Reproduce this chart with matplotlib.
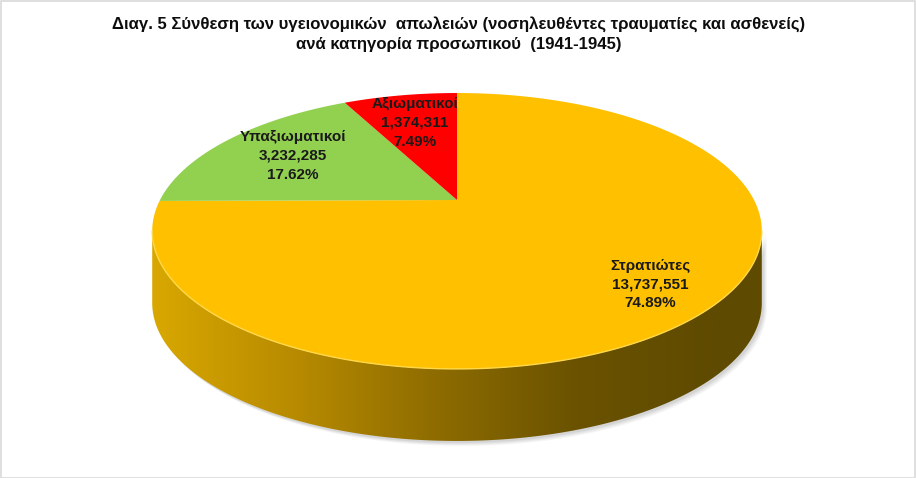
import numpy as np
import matplotlib.pyplot as plt
from matplotlib.patches import Polygon, Rectangle
from matplotlib.colors import LinearSegmentedColormap

plt.rcParams['font.family'] = ['Liberation Sans', 'DejaVu Sans']

# data
categories = ['Στρατιώτες', 'Υπαξιωματικοί', 'Αξιωματικοί']
values = [13737551, 3232285, 1374311]
colors = ['#FFC000', '#92D050', '#FF0000']
title = ('Διαγ. 5 Σύνθεση των υγειονομικών  απωλειών (νοσηλευθέντες τραυματίες και ασθενείς)\n'
         'ανά κατηγορία προσωπικού  (1941-1945)')

# pie geometry (pixel space), simple perspective of a tilted disc
cx, cy = 457, 200
A, B = 297, 131
k = 0.2246
depth = 72


def proj(t, r=1.0, dy=0.0):
    u = r * np.cos(t)
    v = r * np.sin(t)
    w = 1 + k * v
    return cx + A * u / w, cy - B * v / w + dy


fig = plt.figure(figsize=(9.16, 4.78), dpi=100)
ax = fig.add_axes([0, 0, 1, 1])
ax.set_xlim(0, 916)
ax.set_ylim(478, 0)
ax.axis('off')

total = float(sum(values))
fracs = [v / total for v in values]

# ---- side wall (front part, visible between the silhouette points)
t_left = np.pi + np.arcsin(k)
t_right = 2 * np.pi - np.arcsin(k)
tt = np.linspace(t_left, t_right, 300)
xt, yt = proj(tt)
xb, yb = proj(tt[::-1], dy=depth)

# soft shadow under the wall
for i, a in enumerate([0.05, 0.05, 0.06, 0.07]):
    off = 5 - i
    sx, sy = proj(tt, dy=depth + off)
    shp = Polygon(np.column_stack([np.r_[xt + off, sx[::-1] + off], np.r_[yt, sy[::-1]]]),
                  closed=True, facecolor='#404040', edgecolor='none', alpha=a, zorder=1)
    ax.add_patch(shp)

wall = Polygon(np.column_stack([np.r_[xt, xb], np.r_[yt, yb]]), closed=True,
               facecolor='none', edgecolor='none', zorder=2)
ax.add_patch(wall)
cmap = LinearSegmentedColormap.from_list('wall', ['#D9A800', '#B88B00', '#8E6C00', '#6A5200', '#5E4A00'])
grad = np.linspace(0, 1, 512).reshape(1, -1)
im = ax.imshow(grad, cmap=cmap, extent=[150, 720, 450, 180], aspect='auto', zorder=2)
im.set_clip_path(wall)
# right part beyond gradient stays dark
ax.add_patch(Rectangle((720, 180), 60, 270, facecolor='#5E4A00', edgecolor='none', zorder=2,
                       clip_path=wall))

# ---- top face slices (clockwise from 12 o'clock)
start = np.pi / 2
for frac, col in zip(fracs, colors):
    end = start - frac * 2 * np.pi
    ts = np.linspace(start, end, 400)
    x, y = proj(ts)
    pts = np.column_stack([np.r_[cx, x], np.r_[cy, y]])
    ax.add_patch(Polygon(pts, closed=True, facecolor=col, edgecolor='none', zorder=3))
    start = end

# light edge along front rim
ax.plot(xt, yt, color='#FFD84A', lw=1.0, zorder=4)

# ---- labels
label_r = [0.8, 0.7, 0.7]
start = np.pi / 2
for cat, val, frac, r in zip(categories, values, fracs, label_r):
    mid = start - frac * np.pi
    lx, ly = proj(mid, r=r)
    ax.text(lx, ly, '%s\n%s\n%.2f%%' % (cat, format(val, ','), frac * 100),
            ha='center', va='center', fontsize=11, fontweight='bold', color='#1A1A1A',
            linespacing=1.45, zorder=5)
    start = start - frac * 2 * np.pi

ax.text(459, 34, title, ha='center', va='center', fontsize=12.1, fontweight='bold',
        color='#0D0D0D', linespacing=1.42)

# chart border
fig.patches.append(Rectangle((0.5 / 916, 0.5 / 478), 1 - 1.5 / 916, 1 - 1.5 / 478,
                             transform=fig.transFigure, fill=False,
                             edgecolor='#D9D9D9', lw=1.2))

fig.savefig('out.png', dpi=100)
